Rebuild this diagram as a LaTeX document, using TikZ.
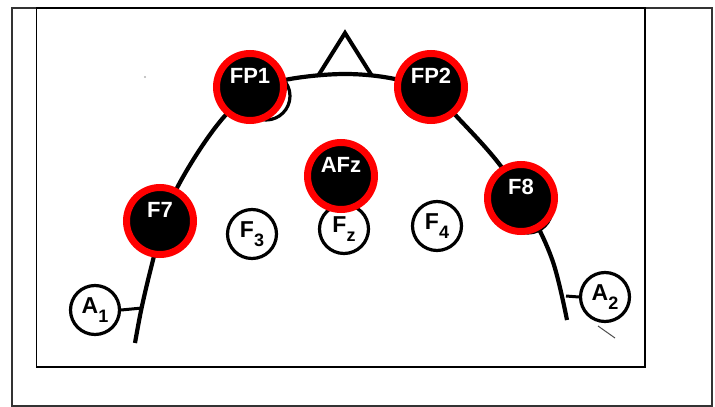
\documentclass[tikz,border=0pt]{standalone}
\usepackage{fontspec}
\setmainfont{Liberation Sans}
\newcommand{\elab}[2]{#1\raisebox{-9pt}{\fontsize{18}{18}\selectfont #2}}
\begin{document}
\begin{tikzpicture}[x=1pt,y=-1pt,
active/.style={circle,fill=black,draw=red,line width=7pt,minimum size=67pt,inner sep=0pt,
text=white,font=\fontsize{22}{22}\selectfont\bfseries,text depth=22pt},
passive/.style={circle,draw=black,line width=3.2pt,minimum size=49pt,inner sep=0pt,
font=\fontsize{23}{23}\selectfont\bfseries},
hidden/.style={circle,draw=black,line width=3.2pt,minimum size=48pt,inner sep=0pt}]
\useasboundingbox (0,0) rectangle (715,407);
\draw[line width=2pt,draw=black!80] (11.5,7.5) rectangle (712,406);
\draw[line width=1.5pt] (36.5,8) rectangle (645,367);
\draw[line width=4.2pt] plot[smooth,tension=0.6] coordinates {(135,343) (142,306) (153,260) (166,212)
(190,165) (223,118) (255,90) (290,79) (345,74) (395,79) (431,92) (460,120) (500,165)
(530,212) (553,262) (567,320)};
\draw[line width=4pt,line join=miter] (318,76) -- (345,33) -- (372,76);
\fill[black!30] (145,77) circle (1.2pt);
\node[hidden] (fp1o) at (266,96) {};
\node[hidden] (fp2o) at (424,96) {};
\node[hidden] (f8o) at (528,209) {};
\node[passive] (f3) at (252,234) {\elab{F}{3}};
\node[passive] (fz) at (344,229) {\elab{F}{z}};
\node[passive] (f4) at (437,226) {\elab{F}{4}};
\node[passive] (a1) at (95,310) {\elab{A}{1}};
\node[passive] (a2) at (605,297) {\elab{A}{2}};
\coordinate (a1h) at (142,308);
\coordinate (a2h) at (566,296);
\draw[line width=3pt] (a1.east) -- (a1h);
\draw[line width=3pt] (a2h) -- (a2.west);
\draw[line width=1pt,black!70] (598,326) -- (615,338);
\node[active] (fp1) at (250,87) {FP1};
\node[active] (fp2) at (431,87) {FP2};
\node[active] (afz) at (341,176) {AFz};
\node[active] (f7) at (160,221) {F7};
\node[active] (f8) at (521,198) {F8};
\end{tikzpicture}
\end{document}
